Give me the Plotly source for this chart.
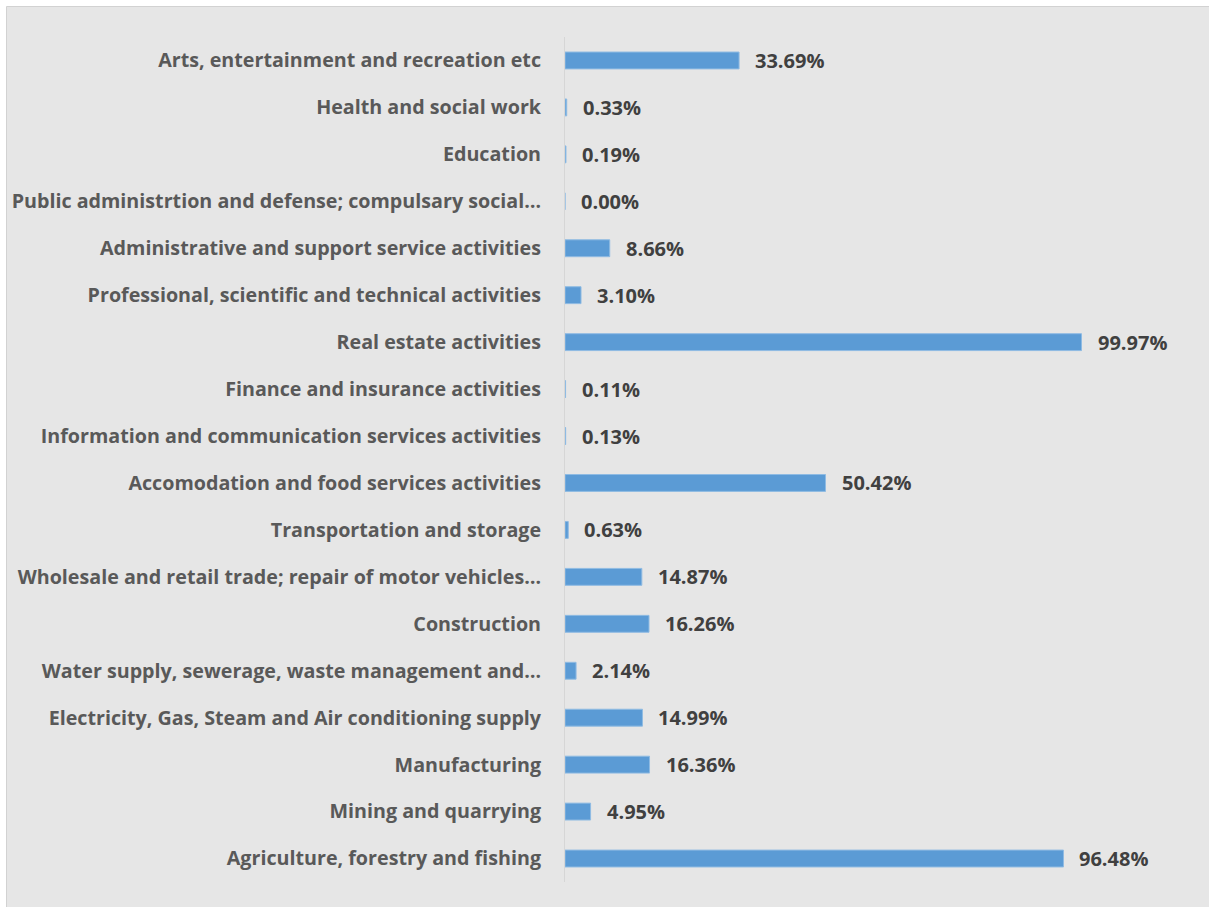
import plotly.graph_objects as go

# Sectors listed bottom-to-top as they appear on the axis
sectors = [
    "Agriculture, forestry and fishing",
    "Mining and quarrying",
    "Manufacturing",
    "Electricity, Gas, Steam and Air conditioning supply",
    "Water supply, sewerage, waste management and…",
    "Construction",
    "Wholesale and retail trade; repair of motor vehicles…",
    "Transportation and storage",
    "Accomodation and food services activities",
    "Information and communication services activities",
    "Finance and insurance activities",
    "Real estate activities",
    "Professional, scientific and technical activities",
    "Administrative and support service activities",
    "Public administrtion and defense; compulsary social…",
    "Education",
    "Health and social work",
    "Arts, entertainment and recreation etc",
]

shares = [
    96.48, 4.95, 16.36, 14.99, 2.14, 16.26, 14.87, 0.63, 50.42,
    0.13, 0.11, 99.97, 3.10, 8.66, 0.00, 0.19, 0.33, 33.69,
]

W, H = 1209, 907
ML, MR, MT, MB = 565, 24, 37, 25
pw = W - ML - MR
ph = H - MT - MB

def px_x(p):
    return (p - ML) / pw

def px_y(p):
    return (H - MB - p) / ph

font_family = "'Open Sans', 'Noto Sans', sans-serif"

fig = go.Figure(
    go.Bar(
        x=shares,
        y=sectors,
        orientation="h",
        width=0.36,
        marker=dict(color="#5b9bd5", line=dict(color="#8fbbe3", width=1)),
        hoverinfo="x+y",
    )
)

# Percentage labels just past the end of each bar
for s, v in zip(sectors, shares):
    fig.add_annotation(
        x=v, y=s, text=f"{v:.2f}%", showarrow=False,
        xanchor="left", yanchor="middle", xshift=14,
        font=dict(family=font_family, size=20, color="#404040", weight="bold"),
    )

# Gray chart panel with a thin border
fig.add_shape(
    type="rect", xref="paper", yref="paper", layer="below",
    x0=px_x(6.5), x1=px_x(W + 10), y0=px_y(H + 10), y1=px_y(6.5),
    fillcolor="#e6e6e6", line=dict(color="#d2d2d2", width=1),
)

fig.update_layout(
    width=W, height=H,
    margin=dict(l=ML, r=MR, t=MT, b=MB, pad=0, autoexpand=False),
    paper_bgcolor="white",
    plot_bgcolor="rgba(0,0,0,0)",
    showlegend=False,
    bargap=0.64,
    xaxis=dict(
        range=[0, 120], visible=False, showgrid=False, zeroline=False,
        fixedrange=True, automargin=False,
    ),
    yaxis=dict(
        categoryorder="array", categoryarray=sectors,
        showline=True, linecolor="#d6d6d6", linewidth=1,
        showgrid=False, zeroline=False, automargin=False,
        ticks="", ticklabelstandoff=19,
        tickfont=dict(family=font_family, size=19.7, color="#595959", weight="bold"),
        fixedrange=True,
    ),
)

fig.write_html("out.html")
